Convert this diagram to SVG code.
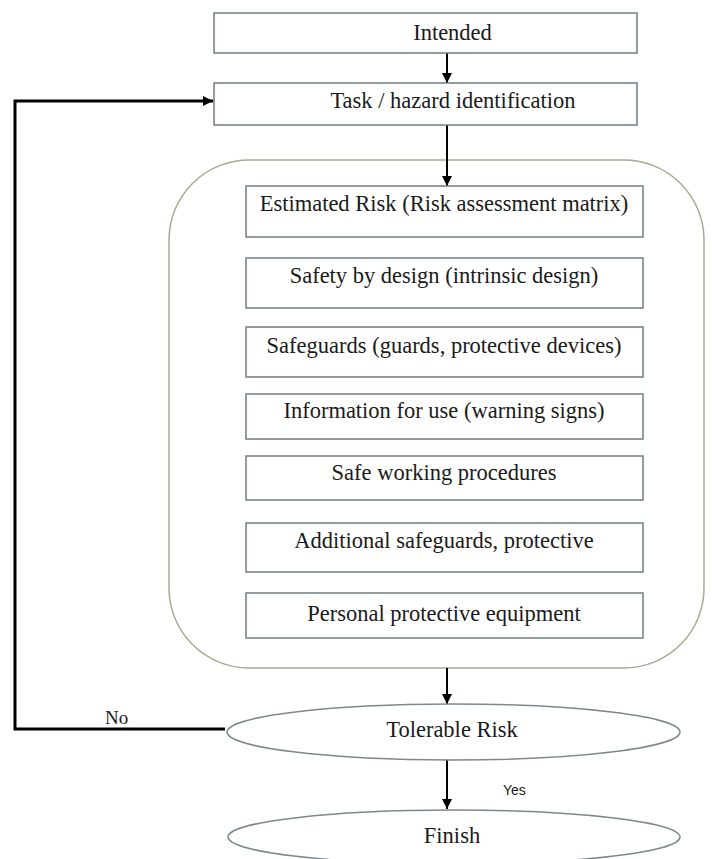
<svg xmlns="http://www.w3.org/2000/svg" width="712" height="859" viewBox="0 0 712 859">
  <style>
    .box { fill: #ffffff; stroke: #6f7c86; stroke-width: 1.5; }
    .group { fill: #ffffff; stroke: #a9aa92; stroke-width: 1.5; }
    .oval { fill: #ffffff; stroke: #7b8893; stroke-width: 1.5; }
    .label { font-family: "Liberation Serif", "Times New Roman", serif; font-size: 22.5px; fill: #1a1a1a; text-anchor: middle; }
    .edge { fill: none; stroke: #000000; stroke-width: 2; }
    .loop { fill: none; stroke: #000000; stroke-width: 3; }
    .tag { font-family: "Liberation Serif", "Times New Roman", serif; font-size: 19px; fill: #1a1a1a; }
    .tag-sans { font-family: "Liberation Sans", Arial, sans-serif; font-size: 14px; fill: #1a1a1a; }
  </style>
  <defs>
    <marker id="head" markerUnits="userSpaceOnUse" markerWidth="10" markerHeight="10" viewBox="0 0 10 10" refX="10" refY="5" orient="auto">
      <path d="M0,0 L10,5 L0,10 Z" fill="#000000"/>
    </marker>
  </defs>
  <rect width="712" height="859" fill="#ffffff"/>

  <!-- grouping frame around the control measures -->
  <g id="controls-frame">
    <rect class="group" x="169" y="160" width="535" height="508" rx="80" ry="80"/>
  </g>

  <g id="connectors">
    <line class="edge" x1="447" y1="53" x2="447" y2="83" marker-end="url(#head)"/>
    <line class="edge" x1="447" y1="125" x2="447" y2="186" marker-end="url(#head)"/>
    <line class="edge" x1="447" y1="668" x2="447" y2="704" marker-end="url(#head)"/>
    <line class="edge" x1="447" y1="760" x2="447" y2="809" marker-end="url(#head)"/>
    <polyline class="loop" points="225,729 15,729 15,101 213,101" marker-end="url(#head)"/>
    <text class="tag" x="105" y="724">No</text>
    <text class="tag-sans" x="503" y="795">Yes</text>
  </g>

  <g id="intended">
    <rect class="box" x="214" y="13" width="423" height="40"/>
    <text class="label" x="452.5" y="40">Intended</text>
  </g>

  <g id="task-hazard">
    <rect class="box" x="214" y="83" width="423" height="42"/>
    <text class="label" x="453" y="108">Task / hazard identification</text>
  </g>

  <g id="estimated-risk">
    <rect class="box" x="246" y="186" width="397" height="51"/>
    <text class="label" x="444" y="211">Estimated Risk (Risk assessment matrix)</text>
  </g>

  <g id="safety-by-design">
    <rect class="box" x="246" y="258" width="397" height="50"/>
    <text class="label" x="444" y="283">Safety by design (intrinsic design)</text>
  </g>

  <g id="safeguards">
    <rect class="box" x="246" y="327" width="397" height="50"/>
    <text class="label" x="444" y="353">Safeguards (guards, protective devices)</text>
  </g>

  <g id="information-for-use">
    <rect class="box" x="246" y="394" width="397" height="45"/>
    <text class="label" x="444" y="418">Information for use (warning signs)</text>
  </g>

  <g id="safe-working">
    <rect class="box" x="246" y="456" width="397" height="44"/>
    <text class="label" x="444" y="480">Safe working procedures</text>
  </g>

  <g id="additional-safeguards">
    <rect class="box" x="246" y="523" width="397" height="49"/>
    <text class="label" x="444" y="548">Additional safeguards, protective</text>
  </g>

  <g id="ppe">
    <rect class="box" x="246" y="593" width="397" height="45"/>
    <text class="label" x="444" y="621">Personal protective equipment</text>
  </g>

  <g id="tolerable-risk">
    <ellipse class="oval" cx="453.5" cy="732" rx="226.5" ry="28"/>
    <text class="label" x="452" y="737">Tolerable Risk</text>
  </g>

  <g id="finish">
    <ellipse class="oval" cx="454" cy="837" rx="226" ry="27"/>
    <text class="label" x="452" y="843">Finish</text>
  </g>
</svg>
